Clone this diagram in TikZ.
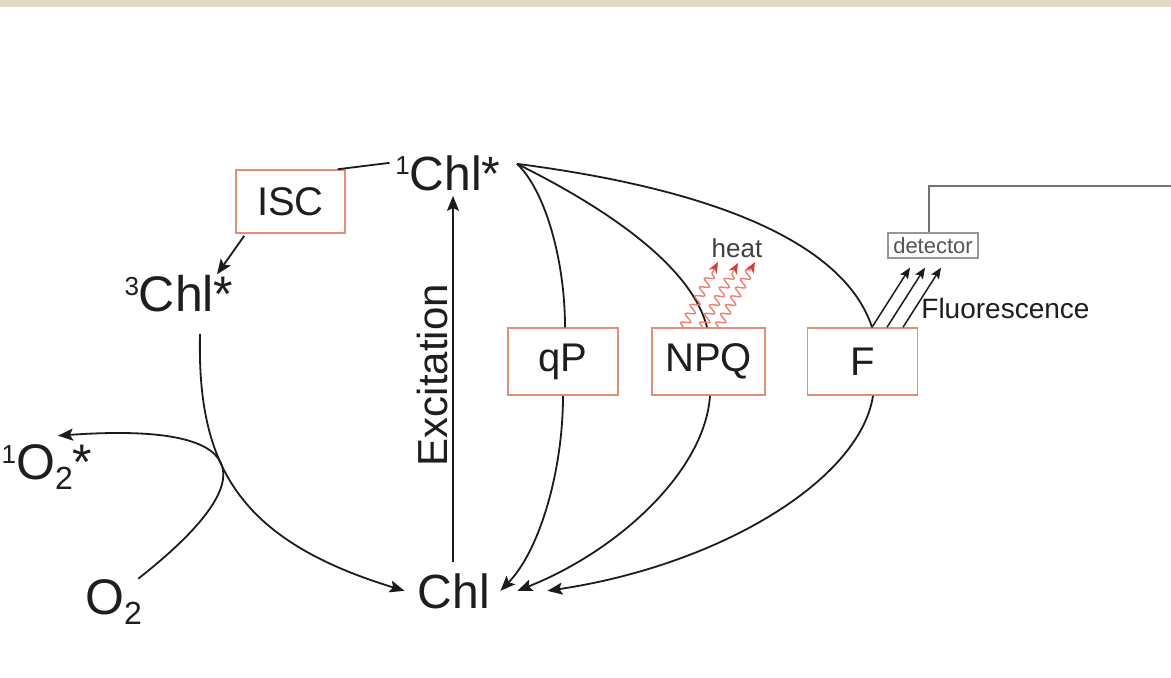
\documentclass[tikz,border=0pt]{standalone}
\usepackage{fontspec}
\setmainfont{Liberation Sans}
\usetikzlibrary{arrows.meta,decorations.pathmorphing}
\definecolor{boxred}{RGB}{226,142,122}
\definecolor{linecol}{RGB}{28,28,28}
\definecolor{textcol}{RGB}{30,30,30}
\definecolor{heatpink}{RGB}{236,128,116}
\definecolor{heattip}{RGB}{222,58,48}
\definecolor{beigeband}{RGB}{228,218,196}
\definecolor{detgray}{RGB}{150,150,150}
\definecolor{dettext}{RGB}{85,85,85}
\definecolor{detline}{RGB}{115,115,115}
\newcommand{\supr}[1]{\raisebox{8pt}{\fontsize{13}{13}\selectfont #1}}
\newcommand{\subr}[1]{\raisebox{-5pt}{\fontsize{16}{16}\selectfont #1}}
\begin{document}
\begin{tikzpicture}[x=0.5pt,y=-0.5pt,
  lbl/.style={inner sep=0pt, text=textcol, font=\fontsize{24}{28}\selectfont},
  bigl/.style={lbl, font=\fontsize{25}{29}\selectfont},
  pbox/.style={draw=boxred, line width=0.75pt, fill=white, inner sep=0pt,
    minimum width=55pt, minimum height=33.5pt, text=textcol,
    font=\fontsize{20}{24}\selectfont},
  conn/.style={draw=linecol, line width=0.9pt},
  arr/.style={conn, -{Stealth[length=7.5pt,width=6pt,inset=1.5pt]}},
  fluo/.style={draw=linecol, line width=0.75pt, -{Stealth[length=5.5pt,width=4.5pt,inset=1pt]}},
  heatwave/.style={draw=heatpink, line width=0.7pt,
    decoration={snake, amplitude=2.2pt, segment length=5pt, post length=4pt},
    decorate, -{Stealth[length=5.5pt,width=4.5pt,color=heattip]}},
]
\fill[white] (0,0) rectangle (1171,677);
\fill[beigeband] (0,0) rectangle (1171,7);
\useasboundingbox (0,0) rectangle (1171,677);

% text nodes
\node[lbl, anchor=base] (chl1) at (448,190) {\supr{1}Chl*};
\node[bigl, anchor=base] (chl3) at (179,311) {\supr{3}Chl*};
\node[lbl, anchor=base] (chl) at (454,608) {Chl};
\node[bigl, anchor=base] (o2) at (113.5,614) {O\subr{2}};
\node[bigl, anchor=base] (o1) at (47,479) {\supr{1}O\subr{2}*};
\node[lbl, rotate=90, font=\fontsize{21}{24}\selectfont] (exc) at (432,375) {Excitation};
\node[inner sep=0pt, anchor=base west, text=textcol, font=\fontsize{14}{16}\selectfont] (fl) at (921,318) {Fluorescence};
\node[inner sep=0pt, anchor=base, text=textcol!85, font=\fontsize{13}{15}\selectfont] (heat) at (737,257) {heat};

% boxes
\node[pbox, minimum height=31.5pt, minimum width=54.5pt] (isc) at (290.5,201.5) {ISC};
\node[pbox] (qp) at (563,361.5) {qP};
\node[pbox, minimum width=56.5pt] (npq) at (708.5,361.5) {NPQ};
\node[pbox] (f) at (862.5,361.5) {F};
\node[draw=detgray, line width=0.6pt, inner sep=0pt, minimum width=45pt, minimum height=12.5pt,
  text=dettext, font=\fontsize{11}{12}\selectfont] (det) at (933,245.5) {detector};

\coordinate (detend) at (1171,186);
\coordinate (h1) at (718,262);
\coordinate (h2) at (738,263);
\coordinate (h3) at (755,262);

% ISC branch
\draw[conn] ([xshift=-2.75pt,yshift=5pt]chl1.west) -- ([xshift=-4pt]isc.north east);
\draw[arr] ([xshift=4.5pt,yshift=-1pt]isc.south west) -- ([xshift=19pt]chl3.north);

% 3Chl* -> Chl
\draw[arr] ([xshift=10.5pt,yshift=-11pt]chl3.south) .. controls (197,465) and (238,540) .. ([xshift=-6.5pt]chl.west);

% O2 -> 1O2*
\draw[arr] ([xshift=-2pt]o2.north east) .. controls (270,475) and (250,422) .. ([xshift=5.5pt,yshift=4pt]o1.north);

% Excitation
\draw[arr] ([xshift=-0.5pt,yshift=5.4pt]chl.north) -- ([xshift=2.5pt,yshift=-2.5pt]chl1.south);

% qP
\draw[conn] ([xshift=8pt,yshift=4.5pt]chl1.east) .. controls (545,190) and (565,260) .. ([xshift=1pt]qp.north);
\draw[arr] (qp.south) .. controls (563,470) and (540,550) .. ([xshift=5pt]chl.east);

% NPQ
\draw[conn] ([xshift=8pt,yshift=4.5pt]chl1.east) .. controls (590,200) and (690,260) .. ([xshift=-0.75pt]npq.north);
\draw[arr] ([xshift=0.75pt]npq.south) .. controls (705,470) and (620,550) .. ([xshift=13.5pt]chl.east);

% F
\draw[conn] ([xshift=8pt,yshift=4.5pt]chl1.east) .. controls (720,190) and (845,245) .. ([xshift=4.75pt]f.north);
\draw[arr] ([xshift=5.25pt]f.south) .. controls (860,480) and (720,565) .. ([xshift=28.5pt]chl.east);

% heat
\draw[heatwave] ([xshift=-12.75pt]npq.north) -- (h1);
\draw[heatwave] ([xshift=-3.25pt]npq.north) -- (h2);
\draw[heatwave] ([xshift=4.75pt]npq.north) -- (h3);

% fluorescence
\draw[fluo] ([xshift=4.75pt]f.north) -- ([xshift=-11.5pt,yshift=-4.5pt]det.south);
\draw[fluo] ([xshift=12.25pt]f.north) -- ([xshift=-4pt,yshift=-4.5pt]det.south);
\draw[fluo] ([xshift=20.25pt]f.north) -- ([xshift=4pt,yshift=-4.5pt]det.south);

% detector line
\draw[draw=detline, line width=1.2pt] ([xshift=-2pt]det.north) |- (detend);
\end{tikzpicture}
\end{document}
